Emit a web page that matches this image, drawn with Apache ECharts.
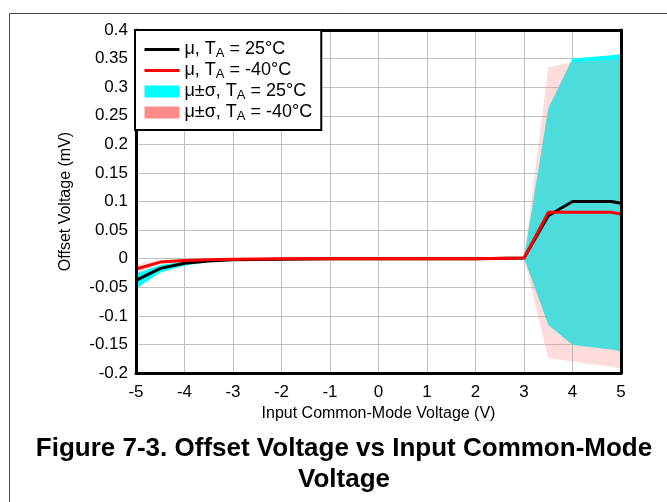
<!DOCTYPE html>
<html>
<head>
<meta charset="utf-8">
<script src="https://cdn.jsdelivr.net/npm/echarts@6/dist/echarts.min.js"></script>
<style>
    html, body { margin: 0; padding: 0; background: #fff; }
    #main { width: 667px; height: 502px; }
</style>
</head>
<body>
<div id="main"></div>
<script>
    // 数据
    var xVals   = [-5, -4.5, -4, -3.5, -3, -2, -1, 0, 1, 2, 3, 3.5, 4, 4.8, 5];
    var mu25    = [-0.038, -0.017, -0.008, -0.004, -0.002, -0.001, 0, 0, 0, 0, 0.001, 0.075, 0.1, 0.1, 0.097];
    var muM40   = [-0.018, -0.006, -0.003, -0.002, -0.001, 0, 0, 0, 0, 0, 0.001, 0.081, 0.081, 0.081, 0.078];
    var lo25    = [-0.052, -0.024, -0.012, -0.006, -0.003, -0.001, 0, 0, 0, 0, 0.001, -0.116, -0.151, -0.159, -0.162];
    var hi25    = [-0.026, -0.011, -0.005, -0.002, -0.001, 0, 0, 0, 0, 0, 0.001, 0.263, 0.35, 0.356, 0.358];
    var loM40   = [-0.026, -0.01, -0.005, -0.003, -0.002, -0.001, 0, 0, 0, 0, 0.001, -0.174, -0.18, -0.189, -0.192];
    var hiM40   = [-0.01, -0.002, -0.001, 0, 0, 0, 0, 0, 0, 0, 0.001, 0.335, 0.344, 0.348, 0.35];
    var names   = ['μ, TA = 25°C', 'μ, TA = -40°C', 'μ±σ, TA = 25°C', 'μ±σ, TA = -40°C'];

    function pairs(ys) {
        return xVals.map(function (x, i) { return [x, ys[i]]; });
    }
    function bandRows(lo, hi) {
        return xVals.map(function (x, i) { return [x, lo[i], hi[i]]; });
    }
    // 整条带子画成一个多边形
    function bandRender(fill, opacity) {
        return function (params, api) {
            if (params.dataIndexInside !== 0) return null;
            var n = params.dataInsideLength;
            var top = [], bot = [];
            for (var i = 0; i < n; i++) {
                var x = api.value(0, i);
                bot.push(api.coord([x, api.value(1, i)]));
                top.push(api.coord([x, api.value(2, i)]));
            }
            return {
                type: 'polygon',
                shape: { points: bot.concat(top.reverse()) },
                style: { fill: fill, opacity: opacity, stroke: null, lineWidth: 0 },
                silent: true
            };
        };
    }
    // 只画边框线的轴
    function borderAxis(pos, min, max, interval) {
        return {
            type: 'value', position: pos,
            min: min, max: max, interval: interval,
            z: 12,
            axisLine: { show: true, onZero: false, lineStyle: { color: '#000', width: 3 } },
            axisTick: { show: false }, axisLabel: { show: false }, splitLine: { show: false }
        };
    }

    var font = 'Liberation Sans, Arial, sans-serif';
    var myChart = echarts.init(document.getElementById('main'));

    var option = {
        animation: false,
        textStyle: { fontFamily: font },
        title: {
            text: 'Figure 7-3. Offset Voltage vs Input Common-Mode\nVoltage',
            left: 339,
            top: 428,
            textAlign: 'center',
            textStyle: { fontSize: 26, fontWeight: 'bold', color: '#000', lineHeight: 31, fontFamily: font }
        },
        graphic: [{
            type: 'rect',
            left: 7, top: 11,
            shape: { width: 700, height: 520 },
            style: { fill: 'none', stroke: '#444', lineWidth: 1 },
            silent: true
        }],
        legend: {
            orient: 'vertical',
            left: 135,
            top: 30,
            padding: [9, 9, 7, 8],
            itemGap: 0,
            itemWidth: 35,
            itemHeight: 12,
            backgroundColor: '#fff',
            borderColor: '#000',
            borderWidth: 2,
            z: 20,
            lineStyle: { width: 3 },
            data: [
                { name: names[0], itemStyle: { opacity: 0 } },
                { name: names[1], itemStyle: { opacity: 0 } },
                { name: names[2], icon: 'rect', itemStyle: { color: '#00ffff' } },
                { name: names[3], icon: 'rect', itemStyle: { color: '#ff8a8a' } }
            ],
            formatter: function (name) {
                return name.replace('TA', 'T{sub|A}');
            },
            textStyle: {
                fontSize: 18,
                lineHeight: 20,
                color: '#000',
                fontFamily: font,
                rich: {
                    sub: { fontSize: 13, lineHeight: 20, padding: [8, 0, 0, 0], color: '#000', fontFamily: font }
                }
            }
        },
        grid: { left: 136, right: 46, top: 30, bottom: 129 },
        xAxis: [{
            type: 'value',
            min: -5, max: 5, interval: 1,
            name: 'Input Common-Mode Voltage (V)',
            nameLocation: 'middle',
            nameGap: 31,
            nameTextStyle: { fontSize: 16, color: '#000' },
            axisLine: { show: false, onZero: false },
            axisTick: { show: false },
            axisLabel: { fontSize: 17, color: '#000', margin: 11 },
            splitLine: { lineStyle: { color: '#c0c0c0', width: 1 } }
        },
            borderAxis('bottom', -5, 5, 1),
            borderAxis('top', -5, 5, 1)
        ],
        yAxis: [{
            type: 'value',
            min: -0.2, max: 0.4, interval: 0.05,
            name: 'Offset Voltage (mV)',
            nameLocation: 'middle',
            nameGap: 62,
            nameTextStyle: { fontSize: 16, color: '#000' },
            axisLine: { show: false, onZero: false },
            axisTick: { show: false },
            axisLabel: { fontSize: 17, color: '#000', margin: 8 },
            splitLine: { lineStyle: { color: '#c0c0c0', width: 1 } }
        },
            borderAxis('left', -0.2, 0.4, 0.05),
            borderAxis('right', -0.2, 0.4, 0.05)
        ],
        series: [
            {
                name: names[2], type: 'custom',
                color: '#00ffff',
                data: bandRows(lo25, hi25),
                encode: { x: 0, y: [1, 2] },
                renderItem: bandRender('#00ffff', 1),
                clip: true, z: 2
            },
            {
                name: names[3], type: 'custom',
                color: '#ff8a8a',
                data: bandRows(loM40, hiM40),
                encode: { x: 0, y: [1, 2] },
                renderItem: bandRender('#ff8a8a', 0.3),
                clip: true, z: 3
            },
            {
                name: names[0], type: 'line', data: pairs(mu25), symbol: 'none', z: 8,
                color: '#000', lineStyle: { color: '#000', width: 3 }
            },
            {
                name: names[1], type: 'line', data: pairs(muM40), symbol: 'none', z: 9,
                color: '#ff0000', lineStyle: { color: '#ff0000', width: 3 }
            }
        ]
    };
    myChart.setOption(option);
</script>
</body>
</html>
